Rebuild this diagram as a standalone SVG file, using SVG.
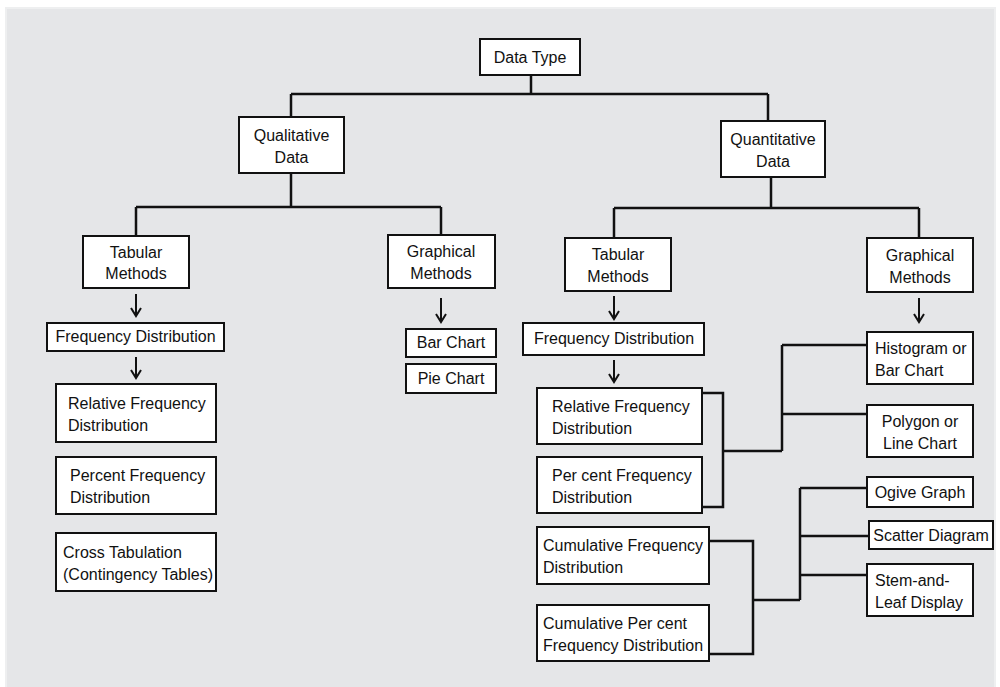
<svg xmlns="http://www.w3.org/2000/svg" width="1000" height="687" viewBox="0 0 1000 687">
<style>
.bg{fill:#e5e6e8;stroke:#eeeff0;stroke-width:2}
.box{fill:#ffffff;stroke:#111;stroke-width:2}
.c{fill:none;stroke:#111;stroke-width:2.5}
.a{fill:none;stroke:#111;stroke-width:2}
text{font-family:"Liberation Sans",Arial,sans-serif;font-size:16px;fill:#111}
.m{text-anchor:middle}
</style>
<defs>
<marker id="ah" markerUnits="userSpaceOnUse" markerWidth="14" markerHeight="12" viewBox="-7 -10 14 12" refX="0" refY="0" orient="auto-start-reverse" overflow="visible">
<path d="M-5,-8 L0,0 L5,-8" transform="rotate(-90)" fill="none" stroke="#111" stroke-width="2"/>
</marker>
</defs>
<rect class="bg" x="6" y="8" width="989" height="680"/>
<g id="connectors">
<path class="c" d="M531,75 V94 M291,94 H768 M291,94 V117 M768,94 V121"/>
<path class="c" d="M291,173 V207 M136,207 H441 M136,207 V236 M441,207 V235"/>
<path class="c" d="M771,177 V208 M614,208 H919 M614,208 V238 M919,208 V238"/>
<path class="c" d="M702,393 H723 V507 H702 M723,451 H782 M782,345 V451 M782,345 H867 M782,414 H867"/>
<path class="c" d="M709,541 H753 V654 H709 M753,600 H800 M800,488 V600 M800,488 H867 M800,536 H869 M800,575 H867"/>
<line class="a" x1="136" y1="294" x2="136" y2="316" marker-end="url(#ah)"/>
<line class="a" x1="136" y1="357" x2="136" y2="378" marker-end="url(#ah)"/>
<line class="a" x1="441" y1="298" x2="441" y2="322" marker-end="url(#ah)"/>
<line class="a" x1="614" y1="296" x2="614" y2="319" marker-end="url(#ah)"/>
<line class="a" x1="614" y1="360" x2="614" y2="382" marker-end="url(#ah)"/>
<line class="a" x1="919" y1="298" x2="919" y2="322" marker-end="url(#ah)"/>
</g>
<g id="datatype"><rect class="box" x="480" y="39" width="100" height="36"/><text class="m" x="530" y="63">Data Type</text></g>
<g id="qualitative"><rect class="box" x="239" y="117" width="105" height="56"/><text class="m" x="291.5" y="141">Qualitative</text><text class="m" x="291.5" y="163">Data</text></g>
<g id="quantitative"><rect class="box" x="721" y="121" width="104" height="56"/><text class="m" x="773" y="145">Quantitative</text><text class="m" x="773" y="167">Data</text></g>
<g id="tabular-l"><rect class="box" x="83" y="236" width="106" height="52"/><text class="m" x="136" y="258">Tabular</text><text class="m" x="136" y="279">Methods</text></g>
<g id="graphical-l"><rect class="box" x="388" y="235" width="107" height="53"/><text class="m" x="441" y="257">Graphical</text><text class="m" x="441" y="279">Methods</text></g>
<g id="freq-l"><rect class="box" x="47" y="323" width="177" height="28"/><text class="m" x="135.5" y="342">Frequency Distribution</text></g>
<g id="rel-l"><rect class="box" x="56" y="384" width="160" height="58"/><text x="68" y="409">Relative Frequency</text><text x="68" y="431">Distribution</text></g>
<g id="pct-l"><rect class="box" x="56" y="457" width="160" height="57"/><text x="70" y="481">Percent Frequency</text><text x="70" y="503">Distribution</text></g>
<g id="cross"><rect class="box" x="56" y="533" width="160" height="58"/><text x="63" y="558">Cross Tabulation</text><text x="63" y="580">(Contingency Tables)</text></g>
<g id="bar"><rect class="box" x="406" y="329" width="90" height="28"/><text class="m" x="451" y="348">Bar Chart</text></g>
<g id="pie"><rect class="box" x="406" y="364" width="90" height="29"/><text class="m" x="451" y="384">Pie Chart</text></g>
<g id="tabular-r"><rect class="box" x="565" y="238" width="106" height="53"/><text class="m" x="618" y="260">Tabular</text><text class="m" x="618" y="282">Methods</text></g>
<g id="graphical-r"><rect class="box" x="867" y="238" width="106" height="54"/><text class="m" x="920" y="261">Graphical</text><text class="m" x="920" y="283">Methods</text></g>
<g id="freq-r"><rect class="box" x="523" y="323" width="181" height="32"/><text class="m" x="614" y="344">Frequency Distribution</text></g>
<g id="rel-r"><rect class="box" x="537" y="388" width="165" height="56"/><text x="552" y="412">Relative Frequency</text><text x="552" y="434">Distribution</text></g>
<g id="pct-r"><rect class="box" x="537" y="457" width="165" height="56"/><text x="552" y="481">Per cent Frequency</text><text x="552" y="503">Distribution</text></g>
<g id="cum-f"><rect class="box" x="537" y="527" width="172" height="57"/><text x="543" y="551">Cumulative Frequency</text><text x="543" y="573">Distribution</text></g>
<g id="cum-p"><rect class="box" x="537" y="605" width="172" height="56"/><text x="543" y="629">Cumulative Per cent</text><text x="543" y="651">Frequency Distribution</text></g>
<g id="hist"><rect class="box" x="867" y="332" width="106" height="52"/><text x="875" y="354">Histogram or</text><text x="875" y="376">Bar Chart</text></g>
<g id="poly"><rect class="box" x="867" y="405" width="106" height="52"/><text class="m" x="920" y="427">Polygon or</text><text class="m" x="920" y="449">Line Chart</text></g>
<g id="ogive"><rect class="box" x="867" y="477" width="106" height="30"/><text class="m" x="920" y="498">Ogive Graph</text></g>
<g id="scatter"><rect class="box" x="869" y="521" width="124" height="28"/><text class="m" x="931" y="541">Scatter Diagram</text></g>
<g id="stem"><rect class="box" x="867" y="564" width="106" height="52"/><text x="875" y="586">Stem-and-</text><text x="875" y="608">Leaf Display</text></g>
</svg>
